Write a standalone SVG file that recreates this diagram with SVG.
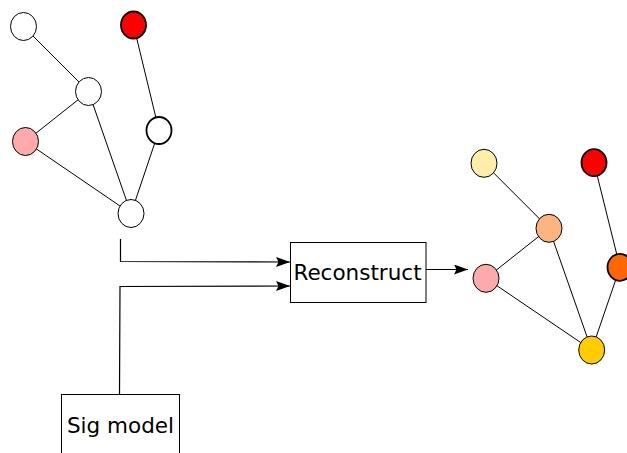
<svg xmlns="http://www.w3.org/2000/svg" width="627" height="453" viewBox="0 0 627 453">
  <defs>
    <marker id="arrow" viewBox="0 0 14 10" refX="14" refY="5" markerWidth="14" markerHeight="10" markerUnits="userSpaceOnUse" orient="auto">
      <path d="M0,0 L14,5 L0,10 L2.5,5 Z" fill="#000"/>
    </marker>
    <style>
      .node { stroke: #000; stroke-width: 1; }
      .thick { stroke-width: 1.8; }
      .edge { stroke: #000; stroke-width: 1; fill: none; }
      .conn { stroke: #000; stroke-width: 1.2; fill: none; }
      .box { fill: #fff; stroke: #000; stroke-width: 1; }
      .label { font-family: "DejaVu Sans", sans-serif; font-size: 21.5px; fill: #000; text-anchor: middle; }
    </style>
  </defs>
  <rect width="627" height="453" fill="#fff"/>

  <!-- input graph edges -->
  <g id="input-edges">
    <line class="edge" x1="23.5" y1="26.5" x2="88.5" y2="91.5"/>
    <line class="edge" x1="88.5" y1="91.5" x2="25.5" y2="141.5"/>
    <line class="edge" x1="88.5" y1="91.5" x2="131" y2="213.5"/>
    <line class="edge" x1="25.5" y1="141.5" x2="131" y2="213.5"/>
    <line class="edge" x1="133.5" y1="25" x2="159" y2="130.5"/>
    <line class="edge" x1="159" y1="130.5" x2="131" y2="213.5"/>
  </g>
  <g id="in-a"><ellipse class="node" cx="23.5" cy="26.5" rx="13" ry="14" fill="#fff"/></g>
  <g id="in-b"><ellipse class="node thick" cx="133.5" cy="25" rx="12.5" ry="13.5" fill="#ff0000"/></g>
  <g id="in-c"><ellipse class="node" cx="88.5" cy="91.5" rx="13" ry="14" fill="#fff"/></g>
  <g id="in-d"><ellipse class="node" cx="25.5" cy="141.5" rx="13" ry="14" fill="#ffaaaa"/></g>
  <g id="in-e"><ellipse class="node thick" cx="159" cy="130.5" rx="12.5" ry="13.5" fill="#fff"/></g>
  <g id="in-f"><ellipse class="node" cx="131" cy="213.5" rx="13" ry="14" fill="#fff"/></g>

  <!-- output graph edges -->
  <g id="output-edges">
    <line class="edge" x1="484" y1="163.3" x2="549" y2="228.3"/>
    <line class="edge" x1="549" y1="228.3" x2="486" y2="278.3"/>
    <line class="edge" x1="549" y1="228.3" x2="591.7" y2="350"/>
    <line class="edge" x1="486" y1="278.3" x2="591.7" y2="350"/>
    <line class="edge" x1="594" y1="162.7" x2="620" y2="267.3"/>
    <line class="edge" x1="620" y1="267.3" x2="591.7" y2="350"/>
  </g>
  <g id="out-a"><ellipse class="node" cx="484" cy="163.3" rx="13" ry="14" fill="#ffeeaa"/></g>
  <g id="out-b"><ellipse class="node thick" cx="594" cy="162.7" rx="12.5" ry="13.5" fill="#ff0000"/></g>
  <g id="out-c"><ellipse class="node" cx="549" cy="228.3" rx="13" ry="14" fill="#ffb380"/></g>
  <g id="out-d"><ellipse class="node" cx="486" cy="278.3" rx="13" ry="14" fill="#ffaaaa"/></g>
  <g id="out-e"><ellipse class="node thick" cx="620" cy="267.3" rx="12.5" ry="13.5" fill="#ff6600"/></g>
  <g id="out-f"><ellipse class="node" cx="591.7" cy="350" rx="13" ry="14" fill="#ffcc00"/></g>

  <!-- connectors -->
  <g id="connectors">
    <polyline class="conn" points="120.5,239 120.5,261.5 290,262" marker-end="url(#arrow)"/>
    <polyline class="conn" points="119.5,394 120,286.5 290,286" marker-end="url(#arrow)"/>
    <line class="conn" x1="426" y1="269.5" x2="468" y2="269.5" marker-end="url(#arrow)"/>
  </g>

  <g id="reconstruct">
    <rect class="box" x="290.5" y="242.5" width="135.5" height="60"/>
    <text class="label" x="357.5" y="280">Reconstruct</text>
  </g>
  <g id="sig-model">
    <rect class="box" x="61.5" y="394.5" width="118" height="70"/>
    <text class="label" x="120.5" y="433">Sig model</text>
  </g>
</svg>
